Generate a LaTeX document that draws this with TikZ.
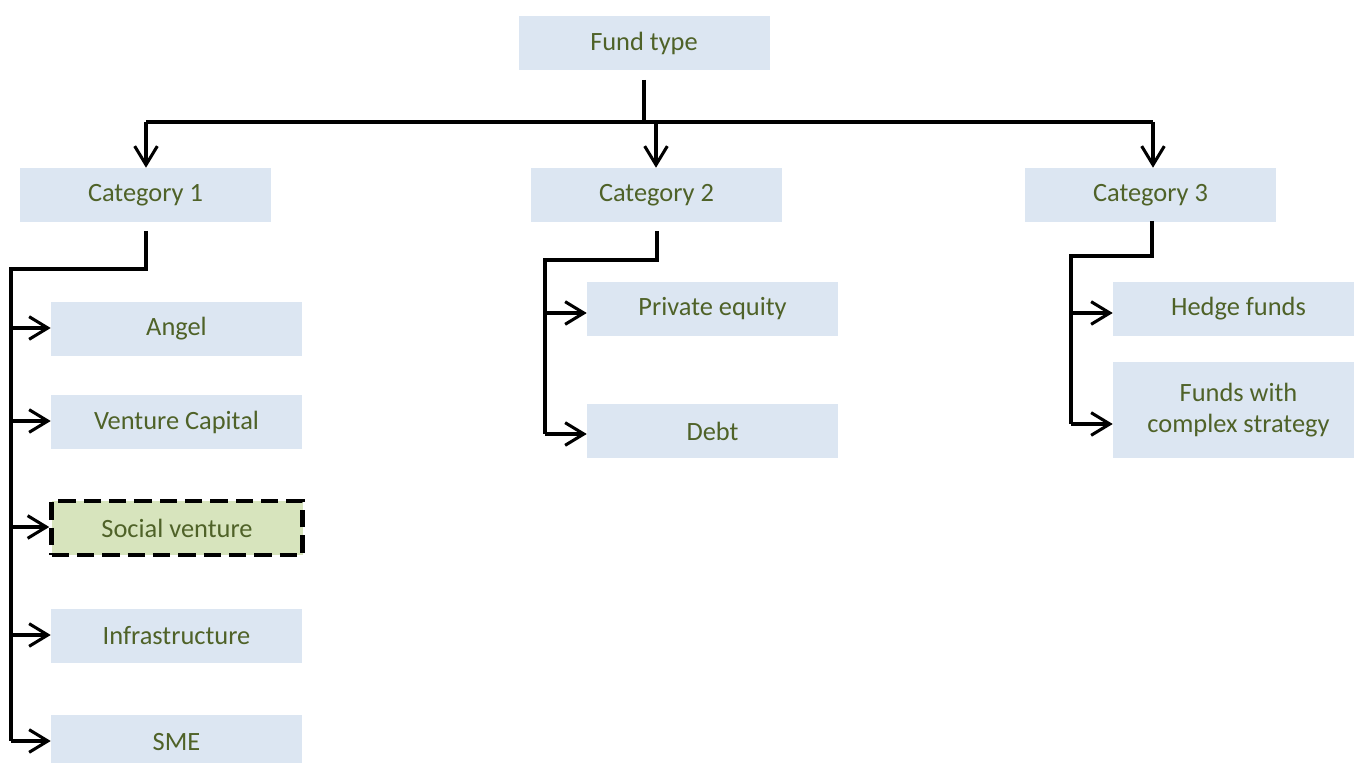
\documentclass[tikz,border=0pt]{standalone}
\usepackage{fontspec}
\setmainfont{Carlito}
\usetikzlibrary{arrows.meta}
\definecolor{boxblue}{HTML}{DCE6F2}
\definecolor{boxgreen}{HTML}{D7E4BD}
\definecolor{txtgreen}{HTML}{4F6228}
\tikzset{
  box/.style={fill=boxblue, text=txtgreen, minimum width=188.25pt, minimum height=40.5pt, inner sep=2pt, align=center, font=\fontsize{19.8}{23}\selectfont},
  hibox/.style={box, fill=boxgreen, draw=black, line width=3.4pt, dash pattern=on 13pt off 6pt},
  conn/.style={line width=2.5pt, line join=miter},
  arr/.style={conn, -{Straight Barb[length=14pt,width=17pt,line width=2.3pt]}},
}
\begin{document}
\begin{tikzpicture}[x=0.75pt,y=-0.75pt]
\useasboundingbox (0,0) rectangle (1354,763);
% nodes
\node[box] (ft) at (644,43) {Fund type};
\node[box] (c1) at (145.5,195) {Category 1};
\node[box] (c2) at (656.5,195) {Category 2};
\node[box] (c3) at (1150.5,195) {Category 3};
\node[box] (angel) at (176.5,329) {Angel};
\node[box] (vc) at (176.5,422) {Venture Capital};
\node[hibox] (sv) at (177,528) {Social venture};
\node[box] (infra) at (176.5,636) {Infrastructure};
\node[box] (sme) at (176.5,742) {SME};
\node[box] (pe) at (712.5,309) {Private equity};
\node[box] (debt) at (712.5,431) {Debt};
\node[box] (hf) at (1238.5,309) {Hedge funds};
\node[box, minimum height=72pt] (fc) at (1238.5,410) {Funds with\\complex strategy};
% coordinates
\coordinate (ftb) at (644,80);
\coordinate (hl) at (146,122);
\coordinate (hm) at (656,122);
\coordinate (hr) at (1153,122);
\coordinate (c1b) at (146,231);
\coordinate (c1k) at (146,269);
\coordinate (c1l) at (11,269);
\coordinate (c2b) at (657,231);
\coordinate (c2k) at (657,260);
\coordinate (c2l) at (545,260);
\coordinate (c3b) at (1152,221);
\coordinate (c3k) at (1152,256);
\coordinate (c3l) at (1071,256);
% top connectors
\draw[conn] (ftb) -- (ftb |- hl);
\draw[conn] (hl) -- (hr);
\draw[arr] (hl) -- (c1.north -| hl);
\draw[arr] (hm) -- (c2.north -| hm);
\draw[arr] (hr) -- (c3.north -| hr);
% category 1
\draw[conn, line width=3pt] (c1b) -- (c1k) -- (c1l) -- (11,741);
\draw[arr] (11,328) -- (angel.west |- 11,328);
\draw[arr] (11,421) -- (vc.west |- 11,421);
\draw[arr] (11,527) -- (sv.west |- 11,527);
\draw[arr] (11,635) -- (infra.west |- 11,635);
\draw[arr] (11,741) -- (sme.west |- 11,741);
% category 2
\draw[conn] (c2b) -- (c2k) -- (c2l) -- (545,434);
\draw[arr] (545,313) -- (pe.west |- 545,313);
\draw[arr] (545,434) -- (debt.west |- 545,434);
% category 3
\draw[conn] (c3b) -- (c3k) -- (c3l) -- (1071,424);
\draw[arr] (1071,313) -- (hf.west |- 1071,313);
\draw[arr] (1071,424) -- (fc.west |- 1071,424);
\end{tikzpicture}
\end{document}
